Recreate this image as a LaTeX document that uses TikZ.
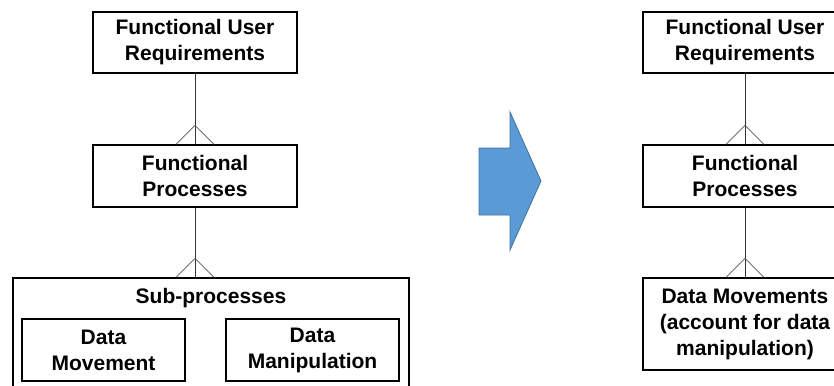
\documentclass[tikz,border=0pt]{standalone}
\usepackage{fontspec}
\setmainfont{Liberation Sans}
\begin{document}
\begin{tikzpicture}[x=1pt,y=-1pt,
  box/.style={draw=black,line width=1.3pt,fill=white,inner sep=0pt,align=center,
    font=\bfseries\fontsize{21}{26}\selectfont},
  lbl/.style={inner sep=0pt,align=center,font=\bfseries\fontsize{21}{26}\selectfont},
  conn/.style={draw=black!80,line width=0.8pt},
  foot/.style={draw=black!65,line width=0.8pt}]
\useasboundingbox (0,0) rectangle (834,385);
\clip (0,0) rectangle (834,385);
% left hierarchy
\node[box,minimum width=204pt,minimum height=61pt] (fur) at (195,42.5) {Functional User\\Requirements};
\node[box,minimum width=204pt,minimum height=62pt] (fp) at (195,176) {Functional\\Processes};
\node[box,minimum width=396pt,minimum height=140pt] (sub) at (211,348) {};
\node[lbl] (sublbl) at (211,298) {Sub-processes};
\node[box,minimum width=163pt,minimum height=62pt] (dmv) at (103.5,350) {Data\\Movement};
\node[box,minimum width=173pt,minimum height=62pt] (dmp) at (312.5,350) {Data\\Manipulation};
\draw[conn] (fur.south) -- (fp.north);
\draw[foot] (fp.north) ++(-19,0) -- ++(19,-19) -- ++(19,19);
\draw[conn] (fp.south) -- (fp.south |- sub.north);
\draw[foot] (fp.south |- sub.north) ++(-19,0) -- ++(19,-19) -- ++(19,19);
% arrow
\draw[fill={rgb,255:red,91;green,155;blue,213},draw={rgb,255:red,65;green,113;blue,156},line width=0.8pt]
  (479,148) -- (510,148) -- (510,112) -- (541,181) -- (510,250) -- (510,215) -- (479,215) -- cycle;
% right hierarchy
\node[box,minimum width=204pt,minimum height=61pt] (rfur) at (745,42.5) {Functional User\\Requirements};
\node[box,minimum width=204pt,minimum height=62pt] (rfp) at (745,176) {Functional\\Processes};
\node[box,minimum width=204pt,minimum height=92pt] (rdm) at (745,324) {Data Movements\\(account for data\\manipulation)};
\draw[conn] (rfur.south) -- (rfp.north);
\draw[foot] (rfp.north) ++(-19,0) -- ++(19,-19) -- ++(19,19);
\draw[conn] (rfp.south) -- (rdm.north);
\draw[foot] (rdm.north) ++(-19,0) -- ++(19,-19) -- ++(19,19);
\end{tikzpicture}
\end{document}
